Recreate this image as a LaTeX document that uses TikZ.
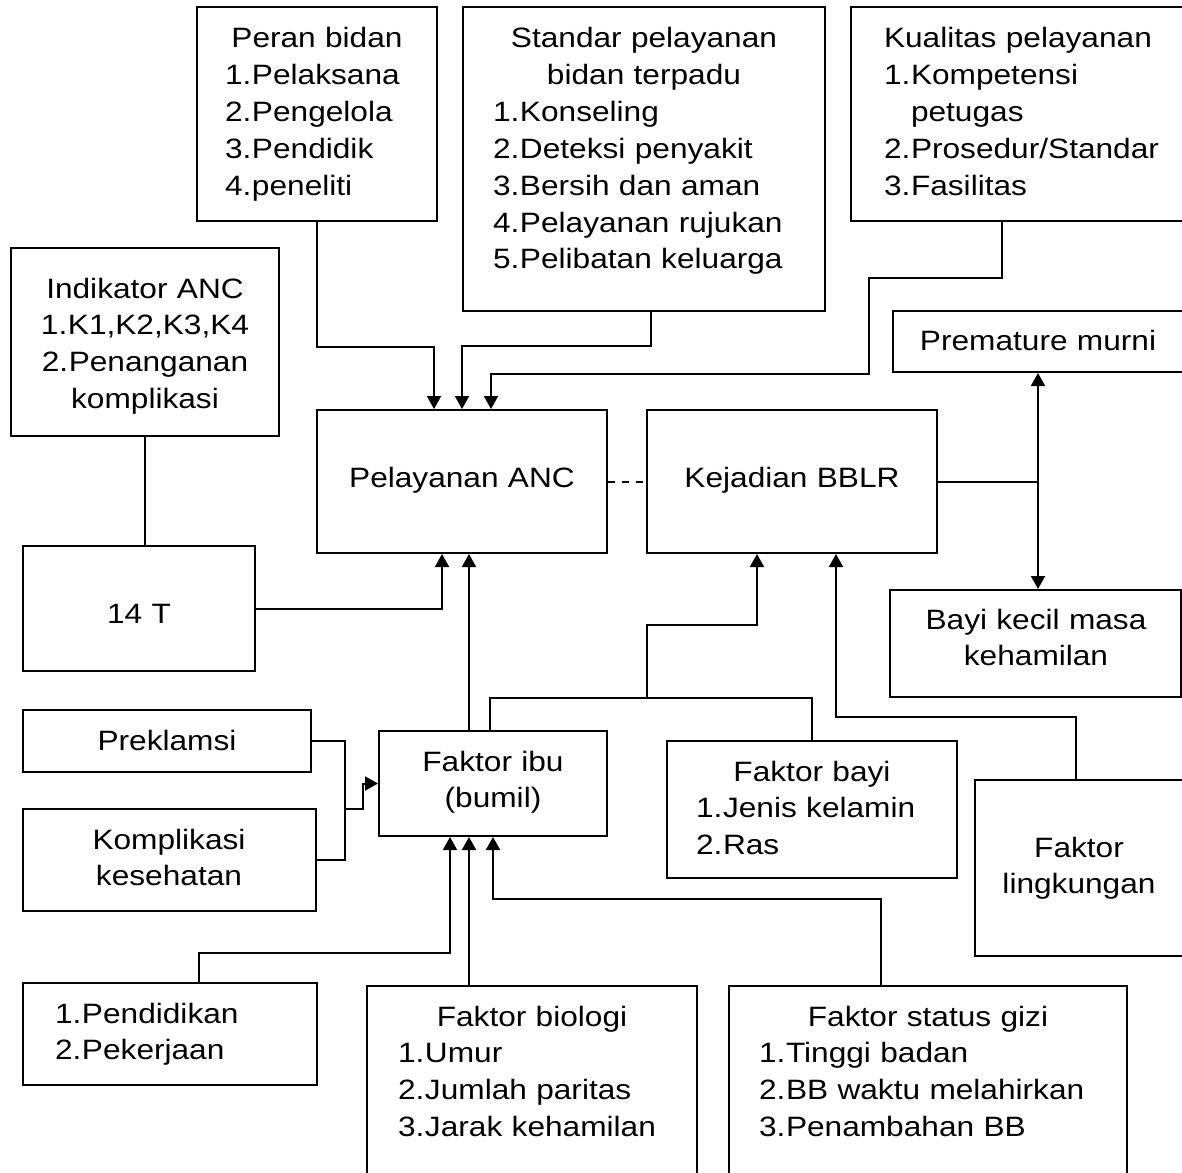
\documentclass[tikz,border=0pt]{standalone}
\usepackage{fontspec}
\setmainfont{Liberation Sans}[FakeStretch=1.13]
\usetikzlibrary{arrows.meta,fit}
\newcommand{\itm}[2]{\makebox[27pt][l]{#1}#2}

\begin{document}
\begin{tikzpicture}[x=1pt,y=-1pt,line width=2pt,
    font=\fontsize{28}{36.8}\selectfont,
    >={Triangle[length=13pt,width=14pt]},
    box/.style={draw,inner sep=0pt,fit={#1}},
    txt/.style={anchor=base,inner sep=0pt,text width=#1,align=center},
    lst/.style={anchor=base,inner sep=0pt,text width=#1,align=left}]
    \useasboundingbox (0,0) rectangle (1182,1172);

    % kotak
    \node[box={(197,7) (437,221)}] (peran) {};
    \node[box={(463,7) (825,311)}] (standar) {};
    \node[box={(851,7) (1200,221)}] (kualitas) {};
    \node[box={(11,248) (279,436)}] (indikator) {};
    \node[box={(317,410) (607,553)}] (anc) {};
    \node[box={(647,410) (937,553)}] (bblr) {};
    \node[box={(893,311) (1200,372)}] (premature) {};
    \node[box={(890,590) (1181,697)}] (bayikecil) {};
    \node[box={(23,546) (255,671)}] (t14) {};
    \node[box={(23,710) (311,772)}] (preklamsi) {};
    \node[box={(23,809) (316,911)}] (komplikasi) {};
    \node[box={(379,731) (607,836)}] (ibu) {};
    \node[box={(667,741) (957,878)}] (bayi) {};
    \node[box={(975,780) (1200,956)}] (lingkungan) {};
    \node[box={(23,983) (317,1085)}] (pendidikan) {};
    \node[box={(367,986) (697,1200)}] (biologi) {};
    \node[box={(729,986) (1127,1200)}] (gizi) {};

    % teks
    \node[lst=184] (peran-t) at (317,48) {\centering Peran bidan\par\raggedright
        \itm{1.}{Pelaksana}\\\itm{2.}{Pengelola}\\\itm{3.}{Pendidik}\\\itm{4.}{peneliti}};
    \node[lst=302] (standar-t) at (644,48) {\centering Standar pelayanan\\bidan terpadu\par\raggedright
        \itm{1.}{Konseling}\\\itm{2.}{Deteksi penyakit}\\\itm{3.}{Bersih dan aman}\\
        \itm{4.}{Pelayanan rujukan}\\\itm{5.}{Pelibatan keluarga}};
    \node[lst=300,anchor=base west] (kualitas-t) at (883,48) {Kualitas pelayanan\\
        \itm{1.}{Kompetensi}\\\itm{}{petugas}\\\itm{2.}{Prosedur/Standar}\\\itm{3.}{Fasilitas}};
    \node[txt=260] (indikator-t) at (145,298) {Indikator ANC\\\itm{1.}{K1,K2,K3,K4}\\
        \itm{2.}{Penanganan}\\komplikasi};
    \node[txt=280] (anc-t) at (462,487) {Pelayanan ANC};
    \node[txt=280] (bblr-t) at (792,487) {Kejadian BBLR};
    \node[txt=280] (premature-t) at (1038,350) {Premature murni};
    \node[txt=280] (bayikecil-t) at (1036,629) {Bayi kecil masa\\kehamilan};
    \node[txt=220] (t14-t) at (139,623) {14 T};
    \node[txt=280] (preklamsi-t) at (167,750) {Preklamsi};
    \node[txt=280] (komplikasi-t) at (169,849) {Komplikasi\\kesehatan};
    \node[txt=220] (ibu-t) at (493,771) {Faktor ibu\\(bumil)};
    \node[lst=232] (bayi-t) at (812,781) {\centering Faktor bayi\par\raggedright
        \itm{1.}{Jenis kelamin}\\\itm{2.}{Ras}};
    \node[txt=200] (lingkungan-t) at (1079,857) {Faktor\\lingkungan};
    \node[lst=260,anchor=base west] (pendidikan-t) at (54,1023) {\itm{1.}{Pendidikan}\\\itm{2.}{Pekerjaan}};
    \node[lst=268] (biologi-t) at (532,1026) {\centering Faktor biologi\par\raggedright
        \itm{1.}{Umur}\\\itm{2.}{Jumlah paritas}\\\itm{3.}{Jarak kehamilan}};
    \node[lst=338] (gizi-t) at (928,1026) {\centering Faktor status gizi\par\raggedright
        \itm{1.}{Tinggi badan}\\\itm{2.}{BB waktu melahirkan}\\\itm{3.}{Penambahan BB}};

    % ke pelayanan ANC
    \draw[->] (peran.south) -- ++(0,125) -| ([xshift=-28pt]anc.north);
    \draw[->] ([xshift=7pt]standar.south) -- ++(0,34) -| (anc.north);
    \draw[->] ([xshift=152pt]kualitas.south west) -- ++(0,56) -| (869,374) -| ([xshift=29pt]anc.north);
    \draw (indikator.south) -- (indikator.south |- t14.north);
    \draw[->] (t14.east) -| ([xshift=-20pt]anc.south);
    \draw[->] ([xshift=-24pt]ibu.north) -- ([xshift=7pt]anc.south);
    \draw[dash pattern=on 7pt off 7pt] (anc.east) -- (bblr.west);

    % dari dan ke kejadian BBLR
    \draw (bblr.east) -- ++(100,0) coordinate (cabang);
    \draw[->] (cabang) -- (cabang |- premature.south);
    \draw[->] (cabang) -- (cabang |- bayikecil.north);
    \coordinate (gabung) at (647,698);
    \draw ([xshift=-3pt]ibu.north) |- (gabung) -| (bayi.north);
    \draw[->] (gabung) -- ++(0,-73) -| ([xshift=-35pt]bblr.south);
    \draw[->] ([xshift=102pt]lingkungan.north west) -- ++(0,-62) -| ([xshift=44pt]bblr.south);

    % ke faktor ibu
    \draw (preklamsi.east) -| (345,809) coordinate (kiri) |- (komplikasi.east);
    \draw[->] (kiri) -- ++(18,0) |- (ibu.west);
    \draw[->] ([xshift=29pt]pendidikan.north) -- ++(0,-29) -| ([xshift=-43pt]ibu.south);
    \draw[->] ([xshift=-63pt]biologi.north) -- ([xshift=-24pt]ibu.south);
    \draw[->] ([xshift=-47pt]gizi.north) -- ++(0,-86) -| (ibu.south);
\end{tikzpicture}
\end{document}
